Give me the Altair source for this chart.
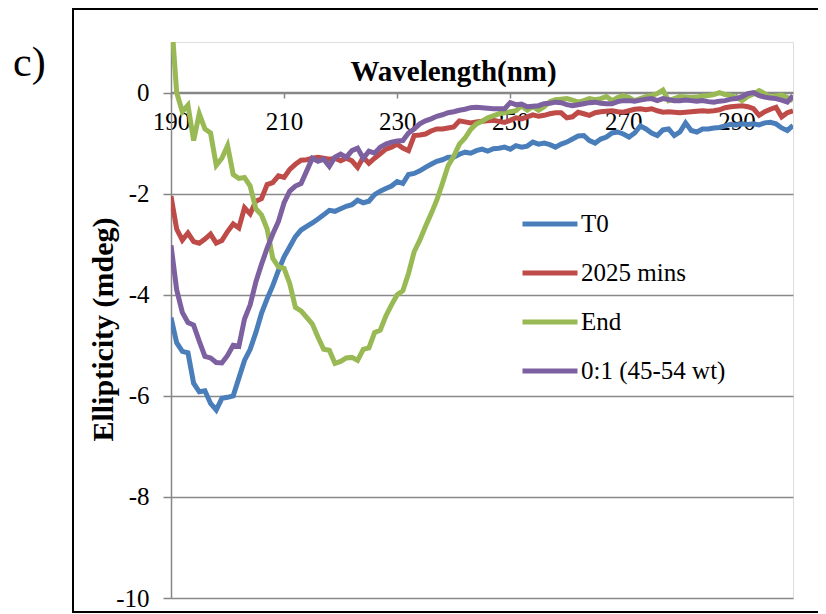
import altair as alt
import pandas as pd

wavelength = list(range(190, 301))

t0 = [-4.45, -4.95, -5.12, -5.15, -5.75, -5.92, -5.90, -6.15, -6.28, -6.05,
      -6.03, -6.00, -5.65, -5.30, -5.08, -4.75, -4.37, -4.08, -3.82, -3.52,
      -3.25, -3.05, -2.85, -2.72, -2.65, -2.58, -2.50, -2.42, -2.33, -2.35,
      -2.30, -2.25, -2.22, -2.13, -2.18, -2.15, -2.02, -1.95, -1.90, -1.85,
      -1.76, -1.80, -1.62, -1.60, -1.55, -1.48, -1.42, -1.36, -1.33, -1.28,
      -1.28, -1.22, -1.18, -1.20, -1.15, -1.12, -1.16, -1.11, -1.10, -1.08,
      -1.12, -1.05, -1.08, -1.06, -0.98, -1.02, -1.00, -1.03, -1.08, -1.02,
      -0.98, -0.92, -0.86, -0.85, -0.95, -1.00, -0.92, -0.88, -0.80, -0.78,
      -0.82, -0.88, -0.80, -0.66, -0.72, -0.80, -0.85, -0.74, -0.72, -0.85,
      -0.78, -0.60, -0.75, -0.78, -0.72, -0.72, -0.70, -0.69, -0.66, -0.63,
      -0.64, -0.62, -0.63, -0.62, -0.64, -0.60, -0.59, -0.62, -0.70, -0.75,
      -0.65]

mins2025 = [-2.05, -2.70, -2.92, -2.78, -2.95, -2.98, -2.90, -2.80, -2.98, -2.93,
            -2.75, -2.60, -2.68, -2.28, -2.40, -2.15, -2.10, -1.82, -1.78, -1.65,
            -1.68, -1.52, -1.42, -1.34, -1.33, -1.30, -1.28, -1.30, -1.32, -1.30,
            -1.35, -1.30, -1.35, -1.48, -1.28, -1.40, -1.30, -1.21, -1.12, -1.08,
            -1.02, -1.10, -1.15, -0.85, -0.84, -0.82, -0.76, -0.72, -0.72, -0.70,
            -0.68, -0.56, -0.58, -0.60, -0.58, -0.57, -0.56, -0.55, -0.57, -0.59,
            -0.55, -0.50, -0.52, -0.48, -0.44, -0.47, -0.45, -0.42, -0.40, -0.40,
            -0.50, -0.48, -0.39, -0.42, -0.45, -0.40, -0.38, -0.37, -0.36, -0.38,
            -0.39, -0.36, -0.33, -0.32, -0.34, -0.32, -0.36, -0.39, -0.38, -0.39,
            -0.40, -0.39, -0.38, -0.37, -0.36, -0.37, -0.36, -0.34, -0.30, -0.28,
            -0.27, -0.26, -0.28, -0.32, -0.45, -0.38, -0.33, -0.29, -0.48, -0.40,
            -0.36]

end = [1.60, 0.00, -0.38, -0.25, -0.95, -0.42, -0.72, -0.80, -1.44, -1.30,
       -1.05, -1.62, -1.70, -1.68, -1.85, -2.30, -2.42, -2.70, -3.28, -3.45,
       -3.48, -3.78, -4.25, -4.32, -4.45, -4.58, -4.84, -5.08, -5.10, -5.36,
       -5.32, -5.25, -5.24, -5.30, -5.08, -5.05, -4.75, -4.70, -4.42, -4.20,
       -4.00, -3.92, -3.58, -3.15, -2.92, -2.65, -2.40, -2.13, -1.80, -1.45,
       -1.26, -1.02, -0.90, -0.73, -0.62, -0.57, -0.50, -0.46, -0.42, -0.40,
       -0.38, -0.36, -0.26, -0.35, -0.28, -0.35, -0.28, -0.18, -0.14, -0.13,
       -0.12, -0.15, -0.19, -0.16, -0.12, -0.14, -0.12, -0.08, -0.16, -0.10,
       -0.06, -0.10, -0.16, -0.12, -0.08, -0.06, -0.02, 0.05, -0.16, -0.12,
       -0.08, -0.09, -0.10, -0.09, -0.07, -0.06, -0.04, 0.00, -0.04, -0.06,
       -0.10, -0.16, -0.08, -0.03, 0.04, -0.02, -0.09, -0.07, -0.05, -0.10,
       -0.16]

ratio01 = [-3.02, -3.90, -4.35, -4.55, -4.60, -4.92, -5.22, -5.25, -5.34, -5.35,
           -5.20, -5.00, -5.02, -4.48, -4.20, -3.75, -3.40, -3.08, -2.80, -2.55,
           -2.18, -1.95, -1.85, -1.80, -1.55, -1.30, -1.36, -1.32, -1.46, -1.28,
           -1.22, -1.28, -1.15, -1.10, -1.30, -1.16, -1.20, -1.08, -1.02, -0.98,
           -0.96, -0.95, -0.80, -0.72, -0.62, -0.56, -0.52, -0.47, -0.44, -0.40,
           -0.38, -0.35, -0.33, -0.30, -0.29, -0.30, -0.31, -0.32, -0.32, -0.32,
           -0.20, -0.24, -0.23, -0.28, -0.27, -0.26, -0.22, -0.21, -0.19, -0.20,
           -0.24, -0.26, -0.24, -0.22, -0.20, -0.19, -0.21, -0.22, -0.22, -0.18,
           -0.16, -0.16, -0.17, -0.15, -0.13, -0.12, -0.16, -0.12, -0.14, -0.16,
           -0.16, -0.15, -0.16, -0.17, -0.16, -0.18, -0.19, -0.17, -0.16, -0.13,
           -0.12, -0.08, -0.02, 0.00, -0.06, -0.09, -0.11, -0.12, -0.15, -0.19,
           -0.06]

series_names = ["T0", "2025 mins", "End", "0:1 (45-54 wt)"]
series_colors = ["#4A7EBB", "#BE4B48", "#98B954", "#7D60A0"]
x_ticks = [190, 210, 230, 250, 270, 290]
y_ticks = [0, -2, -4, -6, -8, -10]

rows = []
for name, vals in zip(series_names, [t0, mins2025, end, ratio01]):
    for w, v in zip(wavelength, vals):
        rows.append({"series": name, "nm": w, "val": v})
df = pd.DataFrame(rows)

FONT = "Liberation Serif"
W, H = 622, 556

lines = alt.Chart(df).mark_line(strokeWidth=5, clip=True).encode(
    x=alt.X("nm:Q", scale=alt.Scale(domain=[190, 300], nice=False, zero=False),
            axis=alt.Axis(values=x_ticks, title="Wavelength(nm)", offset=-506,
                          grid=False, domainColor="#868686", domainWidth=1.5,
                          tickColor="#868686", tickWidth=1.5, tickSize=6,
                          labelFont=FONT, labelFontSize=25, labelColor="black",
                          labelPadding=11, labelFlush=False, labelOverlap=False,
                          titleFont=FONT, titleFontSize=29, titleFontWeight="bold",
                          titleColor="black", titleX=282, titleY=-12,
                          titleBaseline="alphabetic", titleAlign="center")),
    y=alt.Y("val:Q", scale=alt.Scale(domain=[-10, 1], nice=False, zero=False),
            axis=alt.Axis(values=y_ticks, title="Ellipticity (mdeg)",
                          labelExpr="'' + datum.value",
                          grid=True, gridColor="#898989", gridWidth=1.5,
                          domainColor="#868686", domainWidth=1.5,
                          tickColor="#868686", tickWidth=1.5, tickSize=8,
                          labelFont=FONT, labelFontSize=25, labelColor="black",
                          labelPadding=14, labelFlush=False, labelOverlap=False,
                          titleFont=FONT, titleFontSize=30, titleFontWeight="bold",
                          titleColor="black", titleAngle=270, titleX=-59,
                          titleY=287, titleBaseline="alphabetic", titleAlign="center")),
    color=alt.Color("series:N",
                    scale=alt.Scale(domain=series_names, range=series_colors),
                    sort=series_names,
                    legend=alt.Legend(title=None, orient="none", legendX=349,
                                      legendY=152, symbolType="stroke",
                                      symbolSize=3025, symbolStrokeWidth=5,
                                      labelFont=FONT, labelFontSize=25,
                                      labelColor="black", labelLimit=400,
                                      labelOffset=1, rowPadding=6)),
    order=alt.Order("nm:Q"),
)

frame_df = pd.DataFrame({"k": [0]})
frame = alt.Chart(frame_df).mark_rect(fill="transparent", stroke="black",
                                      strokeWidth=2).encode(
    x=alt.value(-98), x2=alt.value(720), y=alt.value(-33), y2=alt.value(570))

label_df = pd.DataFrame({"t": ["c)"]})
panel = alt.Chart(label_df).mark_text(font=FONT, fontSize=42, align="left",
                                      baseline="alphabetic", color="black").encode(
    text="t:N", x=alt.value(-158), y=alt.value(34))

chart = alt.layer(frame, lines, panel).properties(
    width=W, height=H,
    autosize=alt.AutoSizeParams(type="none"),
    padding={"left": 163, "top": 34, "right": 25, "bottom": 16},
).configure_view(stroke="transparent").configure(background="white")

chart.save("out.html", embed_options={"renderer": "svg", "actions": False})
